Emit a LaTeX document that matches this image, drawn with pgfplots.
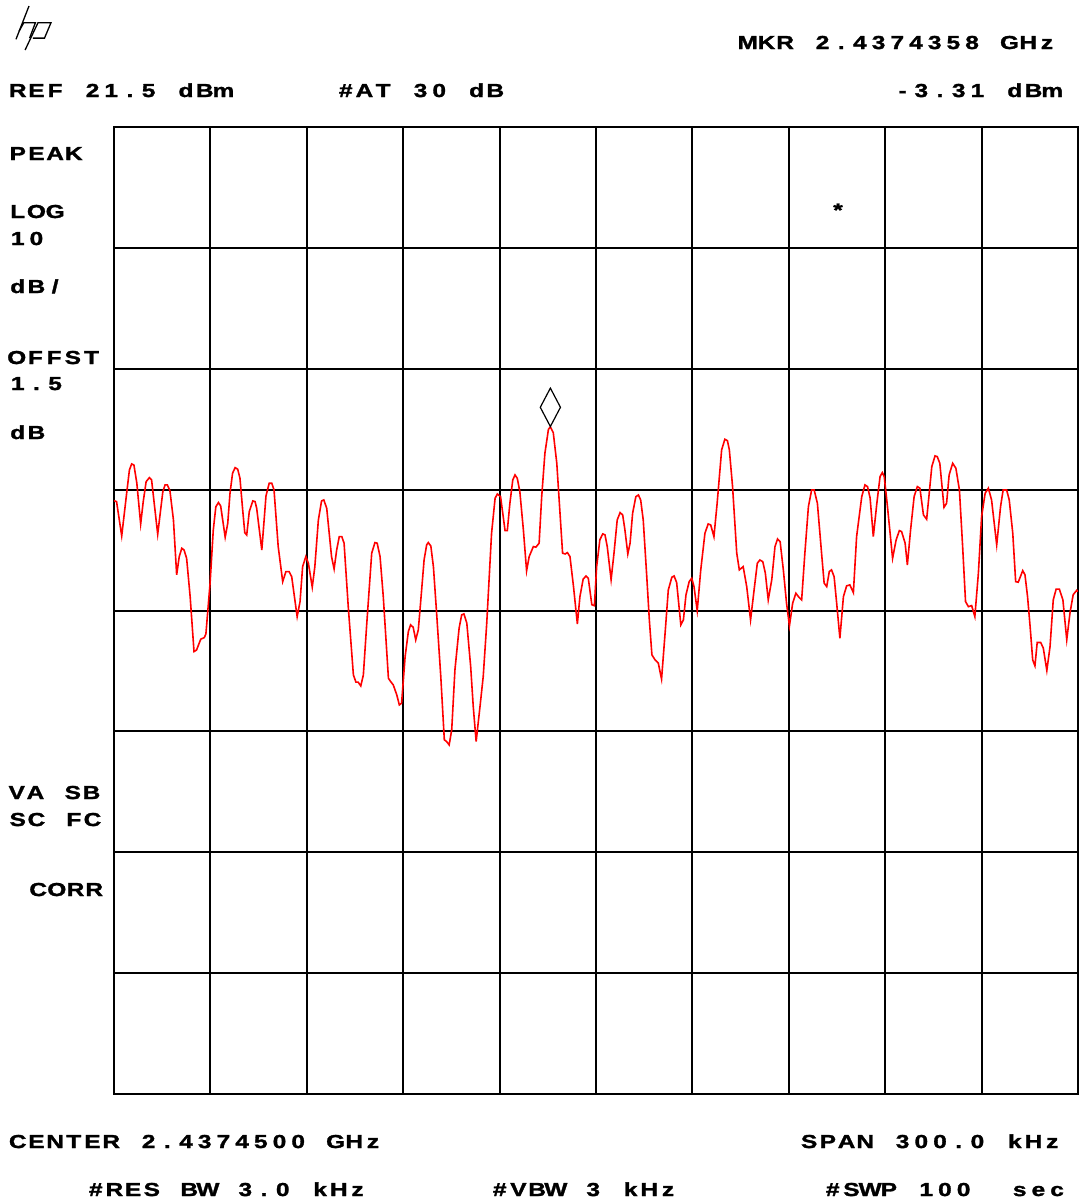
\documentclass[border=0pt]{standalone}
\usepackage{fontspec}
\setmainfont{Liberation Sans}
\newfontfamily\scr[FakeStretch=1.3,FakeBold=1.6]{Liberation Sans Bold}
\usepackage{pgfplots}
\pgfplotsset{compat=1.18}

% analyzer screen text: one fixed cell per character
\newlength\cellw
\setlength\cellw{9.35pt}
\def\mono#1{\monoloop#1\relax}
\def\monoloop#1{\ifx#1\relax\else\makebox[\cellw]{#1}\expandafter\monoloop\fi}

\begin{document}
\begin{tikzpicture}
\useasboundingbox (0,0) rectangle (539.5pt,-600pt);

\begin{axis}[
    at={(57pt,-547pt)}, anchor=south west,
    scale only axis, width=482pt, height=483.5pt,
    xmin=-150, xmax=150, ymin=-58.5, ymax=21.5,
    xtick={-150,-120,...,150}, ytick={-58.5,-48.5,...,21.5},
    xticklabels={}, yticklabels={},
    major tick length=0pt,
    grid=major,
    grid style={black, line width=1pt},
    axis line style={black, line width=1pt},
    clip=true,
  ]
  \addplot[red, line width=0.8pt, mark=none] coordinates {
    (-150.0,-9.41) (-149.2,-9.49) (-147.6,-12.33) (-146.0,-8.66) (-145.2,-6.87)
    (-144.5,-6.37) (-143.8,-6.46) (-142.9,-7.95) (-141.7,-11.34) (-140.9,-9.49)
    (-140.0,-7.84) (-139.0,-7.51) (-138.3,-7.70) (-136.4,-12.19) (-134.8,-8.66)
    (-134.1,-8.11) (-133.4,-8.11) (-132.6,-8.58) (-131.5,-11.01) (-130.5,-15.55)
    (-129.7,-14.04) (-128.9,-13.35) (-128.2,-13.49) (-127.4,-14.18) (-126.3,-17.35)
    (-125.1,-21.90) (-124.3,-21.76) (-123.0,-20.87) (-121.9,-20.74) (-121.4,-20.44)
    (-120.1,-16.24) (-119.1,-11.83) (-118.3,-9.91) (-117.5,-9.57) (-116.8,-9.85)
    (-115.4,-12.44) (-114.6,-11.28) (-113.9,-8.80) (-113.1,-7.14) (-112.3,-6.68)
    (-111.5,-6.81) (-110.8,-7.56) (-110.0,-10.04) (-109.3,-12.06) (-108.7,-12.25)
    (-107.9,-10.32) (-106.8,-9.43) (-106.1,-9.49) (-105.6,-10.04) (-104.0,-13.49)
    (-102.7,-9.02) (-101.7,-7.97) (-100.9,-7.97) (-100.2,-8.52) (-98.9,-13.21)
    (-97.5,-16.11) (-96.5,-15.28) (-95.5,-15.28) (-94.7,-15.70) (-93.0,-19.01)
    (-92.1,-17.76) (-91.3,-14.87) (-90.3,-14.04) (-89.5,-14.59) (-88.3,-16.57)
    (-87.5,-14.87) (-86.4,-11.01) (-85.4,-9.43) (-84.7,-9.35) (-83.8,-10.04)
    (-82.3,-14.04) (-81.5,-15.06) (-80.7,-13.49) (-79.9,-12.39) (-79.1,-12.39)
    (-78.4,-12.93) (-77.1,-18.18) (-75.5,-23.83) (-74.7,-24.43) (-74.0,-24.43)
    (-73.2,-24.74) (-72.4,-23.83) (-71.4,-19.83) (-69.8,-13.76) (-68.8,-12.88)
    (-68.1,-12.93) (-67.2,-14.04) (-66.2,-17.35) (-64.6,-24.10) (-63.9,-24.38)
    (-63.1,-24.65) (-62.0,-25.48) (-61.2,-26.31) (-60.5,-26.17) (-59.4,-22.31)
    (-58.4,-20.25) (-57.7,-19.69) (-56.9,-19.88) (-56.1,-20.93) (-55.3,-20.10)
    (-54.6,-17.90) (-53.5,-14.32) (-52.7,-13.07) (-52.2,-12.88) (-51.4,-13.16)
    (-50.6,-14.87) (-49.6,-18.72) (-48.3,-23.97) (-47.2,-29.20) (-46.5,-29.34)
    (-45.7,-29.62) (-44.9,-28.37) (-43.9,-23.41) (-42.6,-19.96) (-41.8,-18.86)
    (-41.1,-18.78) (-40.2,-19.55) (-39.0,-23.14) (-38.2,-26.45) (-37.3,-29.34)
    (-36.1,-26.45) (-35.1,-23.97) (-34.0,-19.55) (-32.5,-12.11) (-31.4,-9.21)
    (-30.7,-8.86) (-29.7,-9.08) (-28.3,-11.89) (-27.6,-11.89) (-26.8,-9.63)
    (-25.9,-7.70) (-25.2,-7.28) (-24.5,-7.56) (-23.7,-8.66) (-22.6,-11.83)
    (-21.6,-15.22) (-20.8,-14.04) (-19.5,-13.21) (-18.7,-13.26) (-17.7,-12.93)
    (-16.9,-9.08) (-15.9,-5.49) (-14.8,-3.51) (-14.2,-3.31) (-13.3,-3.78)
    (-12.2,-6.32) (-11.2,-10.45) (-10.4,-13.76) (-9.6,-13.82) (-8.9,-13.71)
    (-8.1,-14.04) (-7.0,-16.52) (-5.8,-19.61) (-5.0,-17.35) (-4.0,-15.91)
    (-3.1,-15.64) (-2.4,-15.83) (-1.3,-18.02) (-0.5,-18.10) (0.2,-14.87)
    (1.2,-12.65) (2.1,-12.16) (2.8,-12.24) (3.5,-13.21) (4.7,-15.95)
    (5.6,-13.76) (6.6,-11.01) (7.5,-10.40) (8.3,-10.59) (9.0,-11.83)
    (9.9,-13.82) (10.6,-12.93) (11.4,-10.45) (12.4,-9.08) (13.2,-8.94)
    (13.9,-9.35) (14.7,-11.01) (15.8,-15.70) (16.6,-19.28) (17.4,-22.17)
    (18.4,-22.59) (19.4,-22.86) (20.4,-24.18) (21.5,-20.38) (22.5,-16.80)
    (23.6,-15.75) (24.3,-15.64) (25.1,-16.19) (26.4,-19.69) (27.2,-19.28)
    (28.0,-17.21) (29.0,-16.11) (29.8,-15.83) (30.5,-16.52) (31.5,-18.51)
    (32.6,-15.14) (33.9,-12.11) (34.9,-11.34) (35.7,-11.42) (36.7,-12.39)
    (37.7,-9.63) (39.1,-5.21) (40.1,-4.33) (40.9,-4.45) (41.5,-5.21)
    (42.5,-8.25) (43.8,-13.76) (44.6,-15.14) (45.8,-14.87) (46.9,-16.52)
    (48.1,-19.28) (49.2,-16.80) (50.2,-14.59) (51.0,-14.32) (51.9,-14.46)
    (52.7,-15.41) (53.6,-17.62) (54.7,-15.95) (55.7,-13.21) (56.5,-12.58)
    (57.3,-12.80) (58.3,-15.14) (59.3,-17.90) (60.2,-19.77) (61.2,-17.90)
    (62.2,-17.07) (63.0,-17.35) (64.0,-17.62) (65.0,-13.76) (66.1,-9.91)
    (67.1,-8.53) (67.9,-8.53) (68.9,-9.63) (70.2,-13.76) (71.0,-16.24)
    (71.8,-16.52) (72.6,-15.28) (73.3,-15.14) (74.1,-15.70) (74.9,-17.90)
    (75.9,-20.79) (77.0,-17.35) (78.0,-16.46) (79.0,-16.38) (80.1,-17.02)
    (81.1,-12.39) (82.7,-9.08) (83.7,-8.11) (84.5,-8.25) (85.3,-9.19)
    (86.3,-12.39) (87.4,-9.63) (88.4,-7.42) (89.1,-7.09) (89.7,-7.42)
    (90.6,-9.63) (92.3,-14.18) (93.4,-12.66) (94.4,-11.89) (95.1,-11.97)
    (96.2,-12.93) (96.9,-14.73) (97.9,-11.83) (99.0,-9.08) (100.0,-8.25)
    (100.8,-8.38) (101.9,-10.59) (102.9,-10.95) (103.7,-8.80) (104.5,-6.60)
    (105.5,-5.71) (106.2,-5.77) (107.0,-6.32) (108.3,-9.96) (109.1,-9.63)
    (109.9,-7.28) (111.0,-6.32) (112.0,-6.73) (113.1,-8.53) (114.1,-13.21)
    (115.0,-17.76) (115.9,-18.18) (116.9,-18.09) (117.9,-19.00) (119.0,-15.41)
    (120.0,-10.73) (121.1,-8.80) (122.1,-8.38) (123.1,-9.35) (124.7,-13.07)
    (125.9,-9.91) (126.7,-8.53) (127.8,-8.53) (128.6,-9.35) (129.7,-12.11)
    (130.6,-16.11) (131.4,-16.16) (132.8,-15.20) (133.5,-15.55) (134.3,-17.35)
    (135.1,-19.83) (135.9,-22.58) (136.6,-23.08) (137.3,-21.15) (138.4,-21.15)
    (139.2,-21.61) (140.3,-23.46) (141.3,-21.48) (142.3,-17.62) (143.2,-16.73)
    (144.2,-16.73) (145.3,-17.62) (146.5,-20.92) (147.5,-18.71) (148.5,-17.19)
    (149.6,-16.83) (150.0,-16.94)
  };
  % marker above the peak
  \addplot[only marks, mark=diamond, mark size=9.6pt,
    mark options={xscale=0.7, yshift=9.8pt, draw=black, fill=white, line width=0.6pt}]
    coordinates {(-14.2,-3.31)};
\end{axis}

\begin{scope}[x=0.5pt, y=-0.5pt, every node/.style={inner sep=0pt, font=\fontsize{9.4}{10}\selectfont\scr}]
  % hp logo
  \draw[line width=0.65pt] (16,39.3) -- (29,6);
  \draw[line width=0.65pt] (19.2,31) -- (23.8,22.7) -- (35.4,22.7) -- (29.6,38.1);
  \draw[line width=0.65pt] (25.1,50) -- (38,22.7) -- (51,22.7) -- (44.5,38.1) -- (32.9,38.1);

  \node[anchor=base west] at (738,49) {\mono{MKR~2.4374358~GHz}};
  \node[anchor=base west] at (8,97) {\mono{REF~21.5~dBm}};
  \node[anchor=base west] at (336,97) {\mono{\#AT~30~dB}};
  \node[anchor=base east] at (1062,97) {\mono{-3.31~dBm}};

  \node[anchor=base west] at (8,160) {\mono{PEAK}};
  \node[anchor=base west] at (8,218) {\mono{LOG}};
  \node[anchor=base west] at (8,245) {\mono{10}};
  \node[anchor=base west] at (8,293) {\mono{dB/}};
  \node[anchor=base west] at (7,364) {\mono{OFFST}};
  \node[anchor=base west] at (8,390) {\mono{1.5}};
  \node[anchor=base west] at (8,439) {\mono{dB}};
  \node[anchor=base west] at (7,799) {\mono{VA~SB}};
  \node[anchor=base west] at (8,826) {\mono{SC~FC}};
  \node[anchor=base east] at (104,896) {\mono{CORR}};

  \node at (838,210) {*};

  \node[anchor=base west] at (8,1148) {\mono{CENTER~2.4374500~GHz}};
  \node[anchor=base east] at (1062,1148) {\mono{SPAN~300.0~kHz}};
  \node[anchor=base west] at (86,1196) {\mono{\#RES~BW~3.0~kHz}};
  \node[anchor=base west] at (490,1196) {\mono{\#VBW~3~kHz}};
  \node[anchor=base west] at (823,1196) {\mono{\#SWP~100~~sec}};
\end{scope}
\end{tikzpicture}
\end{document}
